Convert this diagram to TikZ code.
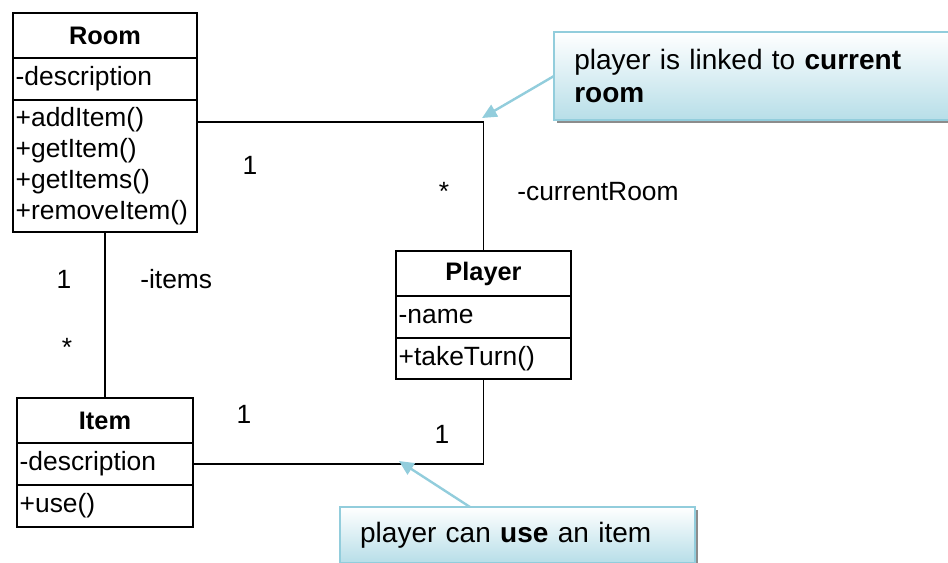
\documentclass[tikz,border=0pt]{standalone}
\usepackage{fontspec}
\setmainfont{Liberation Sans}
\usetikzlibrary{calc,positioning,arrows.meta,shadows}
\definecolor{noteline}{RGB}{146,205,220}
\definecolor{notefill}{RGB}{183,222,232}
\newcommand\clsfont{\fontsize{19.8}{23.25}\selectfont}
\newcommand\clstitlefont{\fontsize{19}{23.25}\selectfont\bfseries}
\newcommand\notefont{\fontsize{21}{24.75}\selectfont}
\tikzset{
	umlbox/.style={draw, line width=1.3pt, anchor=north west, outer sep=0pt, inner xsep=2pt, inner ysep=0pt, font=\clsfont},
	umltitle/.style 2 args={umlbox, minimum width=#1*0.75pt, minimum height=#2*0.75pt, font=\clstitlefont},
	umlpart/.style 2 args={umlbox, minimum width=#1*0.75pt, minimum height=#2*0.75pt, text width=#1*0.75pt-4pt, align=left},
	link/.style={line width=0.8pt},
	mult/.style={anchor=base, inner sep=0pt, font=\clsfont},
	role/.style={anchor=base west, inner sep=0pt, font=\clsfont},
	note/.style n args={3}{draw=noteline, line width=1.2pt, top color=white, bottom color=notefill,
		drop shadow={shadow xshift=2.5pt, shadow yshift=-2.5pt, fill=black!45, opacity=1},
		anchor=north west, outer sep=0pt, align=left, inner xsep=15pt, inner ysep=0pt, font=\notefont,
		minimum width=#1*0.75pt, minimum height=#2*0.75pt, text width=#3},
	notearrow/.style={draw=noteline, line width=1.8pt, -{Triangle[length=11pt,width=10pt]}},
}
\begin{document}
\begin{tikzpicture}[x=0.75pt,y=-0.75pt]
	\useasboundingbox (0,0) rectangle (948,562);
% classes
\node[umltitle={184}{45}] (roomTitle) at (13,13) {Room};
\node[umlpart={184}{42}] (roomAttr) at (roomTitle.south west) {-description};
\node[umlpart={184}{132}] (roomOps) at (roomAttr.south west) {+addItem()\\+getItem()\\+getItems()\\+removeItem()};
\node[umltitle={175}{45}] (playerTitle) at (396,251) {Player};
\node[umlpart={175}{42}] (playerAttr) at (playerTitle.south west) {-name};
\node[umlpart={175}{41}] (playerOps) at (playerAttr.south west) {+takeTurn()};
\node[umltitle={176}{45}] (itemTitle) at (17,398) {Item};
\node[umlpart={176}{42}] (itemAttr) at (itemTitle.south west) {-description};
\node[umlpart={176}{42}] (itemOps) at (itemAttr.south west) {+use()};
% associations
\draw[link] ($(roomOps.north east)+(0,22)$) -| (playerTitle.north);
\draw[link] (roomOps.south) -- (itemTitle.north);
\draw[link] (playerOps.south) |- (itemAttr.east);
\node[mult] (roomMultA) at (250,174) {1};
\node[mult] (playerMultA) at (444,200) {*};
\node[role] (roleCurrent) at (517,200) {-currentRoom};
\node[mult] (roomMultB) at (64,288) {1};
\node[role] (roleItems) at (140,288) {-items};
\node[mult] (itemMultA) at (67,356) {*};
\node[mult] (itemMultB) at (244,423) {1};
\node[mult] (playerMultB) at (442,443) {1};
% notes
\node[note={410}{88}{277pt}] (noteRoom) at (554,32) {player is linked to \textbf{current}\\\textbf{room}};
\node[note={355}{56}{236pt}] (noteItem) at (340,507) {player can \textbf{use} an item};
\coordinate (roomBend) at (482,118);
\coordinate (itemLink) at (399,461);
\draw[notearrow] (noteRoom.west) -- (roomBend);
\draw[notearrow] ($(noteItem.north west)+(130,0)$) -- (itemLink);
	\end{tikzpicture}
\end{document}
